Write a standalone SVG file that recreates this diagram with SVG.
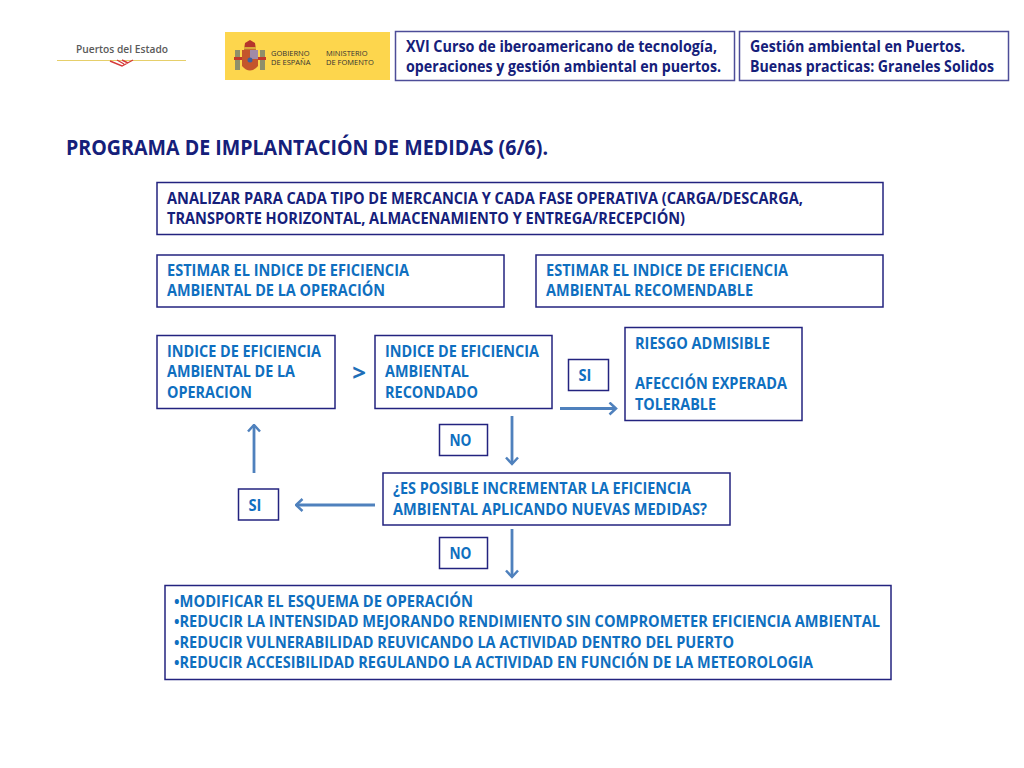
<svg xmlns="http://www.w3.org/2000/svg" width="1024" height="768" viewBox="0 0 1024 768">
<defs>
<marker id="a" viewBox="0 0 14 14" refX="12.500" refY="7" markerWidth="14" markerHeight="14" markerUnits="userSpaceOnUse" orient="auto"><path d="M6 1L12.500 7L6 13" fill="none" stroke="#4f81bd" stroke-width="2.500"/></marker>
</defs>
<style>
.b{fill:#fff;stroke:#23237f;stroke-width:1.500}
.l{fill:#fff;stroke:#4d4d98;stroke-width:1.500}
text{font-family:"Open Sans","Noto Sans","Liberation Sans",sans-serif;font-weight:700;font-size:15.200px;fill:#0f6fc0}
.h{fill:#15207a}
.g{font-size:7.500px;font-weight:400;fill:#333}
.c{stroke:#4f81bd;stroke-width:2.800;fill:none;marker-end:url(#a)}
</style>
<rect width="1024" height="768" fill="#fff"/>
<g id="logo-puertos"><text x="76" y="53" textLength="92" lengthAdjust="spacingAndGlyphs" style="font-size:11.500px;font-weight:600;fill:#5a5a5a">Puertos del Estado</text><path d="M57 60.500H186" stroke="#e6cf6a" stroke-width="1.200"/><path d="M110 61L122 66L133 60M117 60L124 64M122 60L128 63" fill="none" stroke="#d63a3a" stroke-width="1.400"/></g>
<g id="logo-ministerio"><rect x="225" y="32" width="165" height="48" fill="#fdd64d"/>
<rect x="235" y="50" width="5" height="20" fill="#8f8f6a"/><rect x="260" y="50" width="5" height="20" fill="#8f8f6a"/><rect x="234" y="57" width="32" height="3" fill="#c0392b"/>
<path d="M242 50H258V66Q250 75 242 66Z" fill="#c4552b"/><rect x="250" y="50" width="8" height="9" fill="#a08aa8"/><circle cx="250" cy="60" r="2.500" fill="#3f5f9f"/><path d="M244 50L245 43L250 40L255 43L256 50Z" fill="#b5352b"/><rect x="244" y="47" width="12" height="2.500" fill="#d8a93a"/>
<text class="g" x="271" y="56">GOBIERNO</text><text class="g" x="271" y="65">DE ESPAÑA</text><text class="g" x="326" y="56">MINISTERIO</text><text class="g" x="326" y="65">DE FOMENTO</text></g>
<g id="head1"><rect class="l" x="395.500" y="31.500" width="339" height="49"/><text class="h" x="406" y="52" textLength="311" lengthAdjust="spacingAndGlyphs">XVI Curso de iberoamericano de tecnología,</text><text class="h" x="406" y="72" textLength="315" lengthAdjust="spacingAndGlyphs">operaciones y gestión ambiental en puertos.</text></g>
<g id="head2"><rect class="l" x="739.500" y="31.500" width="269" height="49"/><text class="h" x="750" y="52" textLength="215" lengthAdjust="spacingAndGlyphs">Gestión ambiental en Puertos.</text><text class="h" x="750" y="72" textLength="244" lengthAdjust="spacingAndGlyphs">Buenas practicas: Graneles Solidos</text></g>
<text id="title" class="h" x="66" y="155" textLength="482" lengthAdjust="spacingAndGlyphs" style="font-size:20.500px">PROGRAMA DE IMPLANTACIÓN DE MEDIDAS (6/6).</text>
<g id="n1"><rect class="b" x="157" y="182.500" width="726" height="52"/><text class="h" x="167" y="203.500" textLength="636" lengthAdjust="spacingAndGlyphs">ANALIZAR PARA CADA TIPO DE MERCANCIA Y CADA FASE OPERATIVA (CARGA/DESCARGA,</text><text class="h" x="167" y="224" textLength="518" lengthAdjust="spacingAndGlyphs">TRANSPORTE HORIZONTAL, ALMACENAMIENTO Y ENTREGA/RECEPCIÓN)</text></g>
<g id="n2"><rect class="b" x="157" y="255" width="347" height="52"/><text x="167" y="275.500" textLength="242" lengthAdjust="spacingAndGlyphs">ESTIMAR EL INDICE DE EFICIENCIA</text><text x="167" y="296" textLength="218" lengthAdjust="spacingAndGlyphs">AMBIENTAL DE LA OPERACIÓN</text></g>
<g id="n3"><rect class="b" x="536" y="255" width="347" height="52"/><text x="546" y="275.500" textLength="242" lengthAdjust="spacingAndGlyphs">ESTIMAR EL INDICE DE EFICIENCIA</text><text x="546" y="296" textLength="207" lengthAdjust="spacingAndGlyphs">AMBIENTAL RECOMENDABLE</text></g>
<g id="n4"><rect class="b" x="157" y="335.500" width="178" height="73"/><text x="167" y="356.500" textLength="154" lengthAdjust="spacingAndGlyphs">INDICE DE EFICIENCIA</text><text x="167" y="377" textLength="128" lengthAdjust="spacingAndGlyphs">AMBIENTAL DE LA</text><text x="167" y="397.500" textLength="85" lengthAdjust="spacingAndGlyphs">OPERACION</text></g>
<g id="n5"><rect class="b" x="375" y="335.500" width="177" height="73"/><text x="385" y="356.500" textLength="154" lengthAdjust="spacingAndGlyphs">INDICE DE EFICIENCIA</text><text x="385" y="377" textLength="84" lengthAdjust="spacingAndGlyphs">AMBIENTAL</text><text x="385" y="397.500" textLength="93" lengthAdjust="spacingAndGlyphs">RECONDADO</text></g>
<text id="gt" x="359" y="381" text-anchor="middle" style="font-size:24px;fill:#1f6fb8">&gt;</text>
<g id="n6"><rect class="b" x="625" y="327.500" width="177" height="93"/><text x="635" y="348.500" textLength="135" lengthAdjust="spacingAndGlyphs">RIESGO ADMISIBLE</text><text x="635" y="389" textLength="152" lengthAdjust="spacingAndGlyphs">AFECCIÓN EXPERADA</text><text x="635" y="410" textLength="81" lengthAdjust="spacingAndGlyphs">TOLERABLE</text></g>
<g id="si1"><rect class="b" x="568.500" y="359.500" width="40" height="31"/><text x="578.500" y="381" textLength="13" lengthAdjust="spacingAndGlyphs">SI</text></g>
<g id="no1"><rect class="b" x="439.500" y="424.500" width="48" height="31"/><text x="449.500" y="445.500" textLength="22" lengthAdjust="spacingAndGlyphs">NO</text></g>
<g id="n7"><rect class="b" x="383" y="473" width="347" height="52"/><text x="393" y="494" textLength="298" lengthAdjust="spacingAndGlyphs">¿ES POSIBLE INCREMENTAR LA EFICIENCIA</text><text x="393" y="514.500" textLength="314" lengthAdjust="spacingAndGlyphs">AMBIENTAL APLICANDO NUEVAS MEDIDAS?</text></g>
<g id="si2"><rect class="b" x="238.500" y="489" width="40" height="31"/><text x="248.500" y="510.500" textLength="13" lengthAdjust="spacingAndGlyphs">SI</text></g>
<g id="no2"><rect class="b" x="439.500" y="537.500" width="48" height="31"/><text x="449.500" y="558.500" textLength="22" lengthAdjust="spacingAndGlyphs">NO</text></g>
<g id="n8"><rect class="b" x="165" y="585.500" width="726" height="94"/><text x="174" y="606.500" textLength="299" lengthAdjust="spacingAndGlyphs">•MODIFICAR EL ESQUEMA DE OPERACIÓN</text><text x="174" y="626.500" textLength="706" lengthAdjust="spacingAndGlyphs">•REDUCIR LA INTENSIDAD MEJORANDO RENDIMIENTO SIN COMPROMETER EFICIENCIA AMBIENTAL</text><text x="174" y="647.500" textLength="560" lengthAdjust="spacingAndGlyphs">•REDUCIR VULNERABILIDAD REUVICANDO LA ACTIVIDAD DENTRO DEL PUERTO</text><text x="174" y="668" textLength="639" lengthAdjust="spacingAndGlyphs">•REDUCIR ACCESIBILIDAD REGULANDO LA ACTIVIDAD EN FUNCIÓN DE LA METEOROLOGIA</text></g>
<g id="connectors">
<path class="c" d="M560 408.500H616"/>
<path class="c" d="M512 416V464"/>
<path class="c" d="M375 505H296"/>
<path class="c" d="M254 473V425"/>
<path class="c" d="M512 529V577"/>
</g>
</svg>
